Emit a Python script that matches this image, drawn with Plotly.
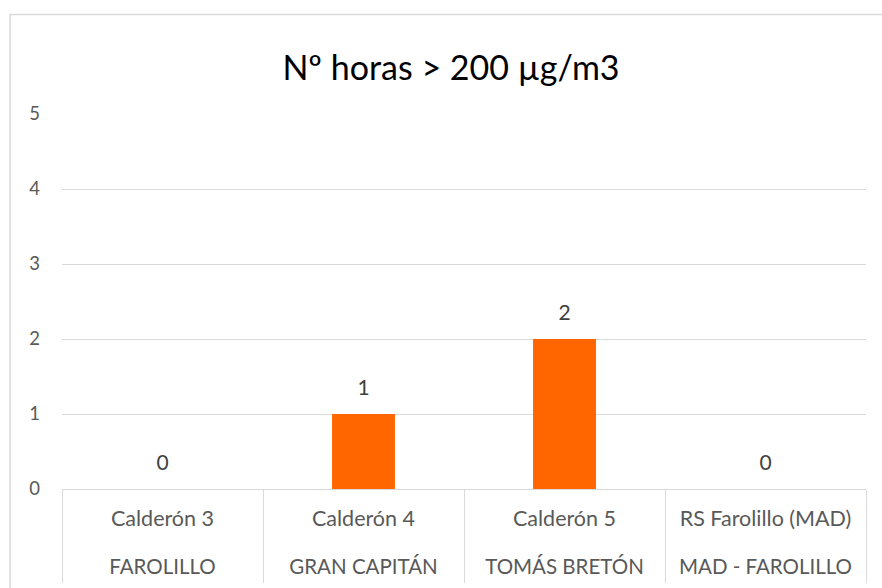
import plotly.graph_objects as go

title_text = "Nº horas > 200 µg/m3"
stations = ["Calderón 3", "Calderón 4", "Calderón 5", "RS Farolillo (MAD)"]
sites = ["FAROLILLO", "GRAN CAPITÁN", "TOMÁS BRETÓN", "MAD - FAROLILLO"]
hours = [0, 1, 2, 0]
y_ticks = [0, 1, 2, 3, 4, 5]

FONT = "Lato"
GRID = "#d9d9d9"
LBL = "#595959"

tick_text = [
    f"<span style='font-size:21.5px'>{s}</span><br><br><span style='font-size:20.5px'>{t}</span>"
    for s, t in zip(stations, sites)
]

fig = go.Figure()
fig.add_trace(go.Bar(
    x=stations,
    y=hours,
    marker=dict(color="#FF6600", line=dict(width=0)),
    width=0.313,
    hoverinfo="skip",
))
# value labels above the bars
fig.add_trace(go.Scatter(
    x=stations,
    y=hours,
    mode="markers+text",
    marker=dict(size=20, color="rgba(0,0,0,0)"),
    text=[str(v) for v in hours],
    textposition="top center",
    textfont=dict(family=FONT, size=21, color="#404040"),
    cliponaxis=False,
    hoverinfo="skip",
))
# twin axis that only draws the category dividers
fig.add_trace(go.Scatter(
    x=stations, y=hours, xaxis="x2", mode="markers",
    marker=dict(size=1, color="rgba(0,0,0,0)"), hoverinfo="skip",
))

fig.update_layout(
    width=882, height=588,
    margin=dict(l=62, r=16, t=114, b=99, autoexpand=False),
    plot_bgcolor="white", paper_bgcolor="white",
    showlegend=False,
    title=dict(text=title_text, x=451 / 882, xanchor="center", y=1 - 68 / 588, yanchor="middle",
               xref="container", yref="container",
               font=dict(family=FONT, size=34, color="#000000")),
    yaxis=dict(range=[0, 5], tickvals=y_ticks, showgrid=True, gridcolor=GRID, gridwidth=1,
               zeroline=False, showline=False, ticks="", ticklabelstandoff=21, automargin=False,
               tickfont=dict(family=FONT, size=18.5, color=LBL)),
    xaxis=dict(type="category", categoryorder="array", categoryarray=stations,
               range=[-0.5, len(stations) - 0.5], automargin=False,
               showline=True, linecolor=GRID, linewidth=1, showgrid=False, ticks="",
               tickvals=stations, ticktext=tick_text, ticklabelstandoff=14,
               tickfont=dict(family=FONT, size=18.5, color=LBL)),
    xaxis2=dict(type="category", categoryorder="array", categoryarray=stations,
                overlaying="x", anchor="y", side="bottom", matches="x", automargin=False,
                showline=False, showgrid=False, showticklabels=False,
                ticks="outside", tickson="boundaries", ticklen=93,
                tickcolor=GRID, tickwidth=1),
    shapes=[dict(type="rect", xref="paper", yref="paper",
                 x0=(10 - 62) / 804, x1=1.2, y0=-0.5, y1=(489 - 14.5) / 375,
                 line=dict(color=GRID, width=1.5), fillcolor="rgba(0,0,0,0)", layer="below")],
)

fig.write_html("out.html", config={"displayModeBar": False},
               post_script="document.body.style.margin='0px';")
